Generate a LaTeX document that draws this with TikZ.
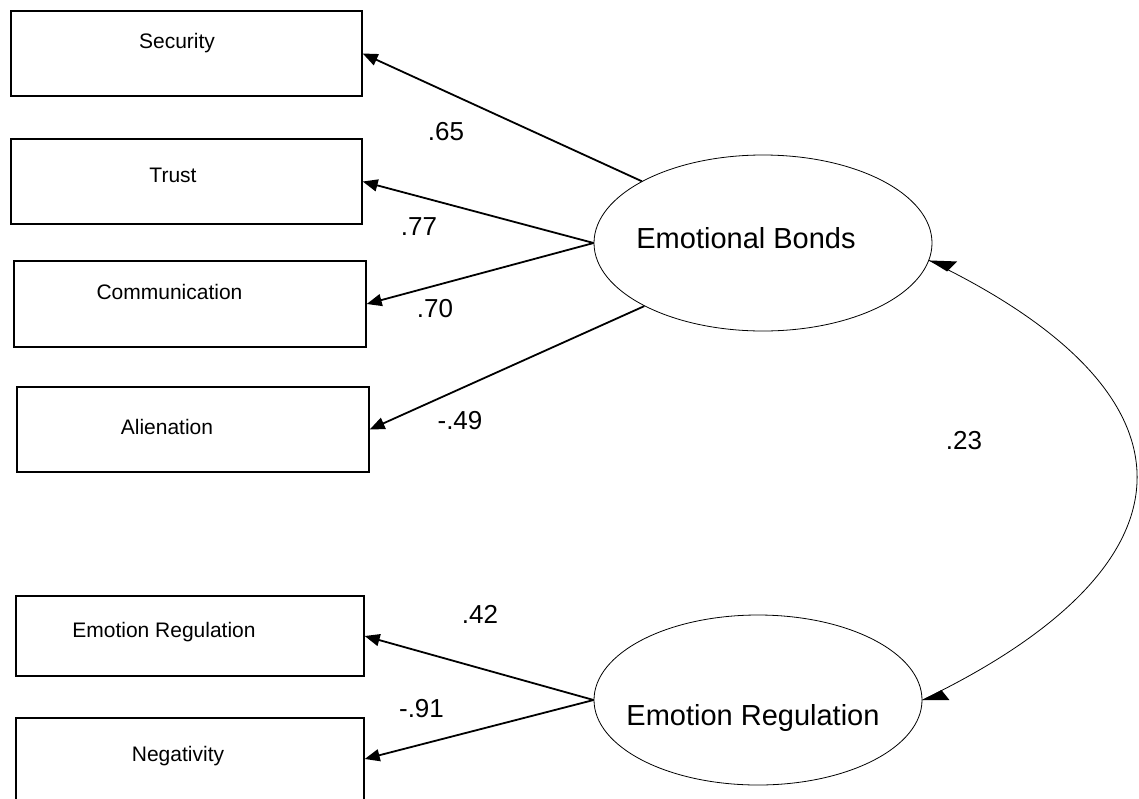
\documentclass[tikz,border=0pt]{standalone}
\usepackage{fontspec}
\setmainfont{Liberation Sans}
\usetikzlibrary{arrows.meta,shapes.geometric}
\begin{document}
\begin{tikzpicture}[x=1pt,y=-1pt,
  obsbox/.style={draw=black,line width=1.4pt,rectangle,inner sep=0pt},
  boxtext/.style={anchor=base,inner sep=0pt,font=\fontsize{21}{25}\selectfont},
  latent/.style={draw=black,line width=0.8pt,ellipse,inner sep=0pt},
  latenttext/.style={anchor=base,inner sep=0pt,font=\fontsize{29}{34}\selectfont},
  coef/.style={anchor=base,inner sep=0pt,font=\fontsize{26}{31}\selectfont},
  load/.style={line width=1.8pt,-{Triangle[length=15pt,width=12pt]}},
  corr/.style={line width=0.8pt},
  wedge/.style={fill=black}]
\useasboundingbox (0,0) rectangle (1139,798);
% observed boxes
\node[obsbox,minimum width=351pt,minimum height=85pt] (sec) at (186.5,53.5) {};
\node[obsbox,minimum width=351pt,minimum height=85pt] (tru) at (186.5,181.5) {};
\node[obsbox,minimum width=352pt,minimum height=86pt] (com) at (190,304) {};
\node[obsbox,minimum width=352pt,minimum height=85pt] (ali) at (193,429.5) {};
\node[obsbox,minimum width=348pt,minimum height=80pt] (emr) at (190,636) {};
\node[obsbox,minimum width=348pt,minimum height=82pt] (neg) at (190,759) {};
\node[boxtext] (secT) at (177,48) {Security};
\node[boxtext] (truT) at (173,182) {Trust};
\node[boxtext] (comT) at (169.5,299) {Communication};
\node[boxtext] (aliT) at (167,434) {Alienation};
\node[boxtext] (emrT) at (164,637) {Emotion Regulation};
\node[boxtext] (negT) at (178,761) {Negativity};
% latent ellipses
\node[latent,minimum width=338pt,minimum height=176pt] (EB) at (763,243) {};
\node[latent,minimum width=328pt,minimum height=170pt] (ER) at (758,700) {};
\node[latenttext] (EBT) at (746,248) {Emotional Bonds};
\node[latenttext] (ERT) at (753,725) {Emotion Regulation};
% loadings
\draw[load] (EB.153) -- (sec.east);
\draw[load] (EB.west) -- (tru.east);
\draw[load] (EB.west) -- (com.east);
\draw[load] (EB.208) -- (ali.east);
\draw[load] (ER.west) -- (emr.east);
\draw[load] (ER.west) -- (neg.east);
% correlation
\draw[corr] (EB.-6) .. controls (1212,396) and (1203,565) .. (ER.east);
\fill[wedge] (EB.-6) -- ++(28,1) -- ++(-10,10) -- cycle;
\fill[wedge] (ER.east) -- ++(27,0) -- ++(-8,-10) -- cycle;
% coefficients
\node[coef] (c65) at (446,140) {.65};
\node[coef] (c77) at (419,235) {.77};
\node[coef] (c70) at (435,317) {.70};
\node[coef] (c49) at (460,429) {-.49};
\node[coef] (c42) at (480,623) {.42};
\node[coef] (c91) at (421.5,717) {-.91};
\node[coef] (c23) at (964,449) {.23};
\end{tikzpicture}
\end{document}
